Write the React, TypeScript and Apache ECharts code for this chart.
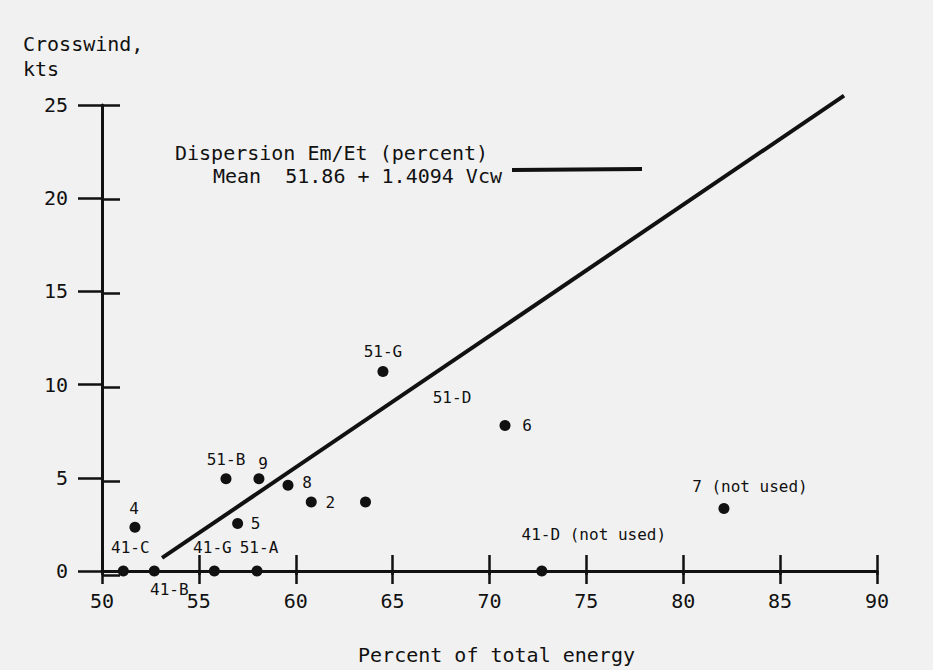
import React, { useEffect, useRef } from "react";
import * as echarts from "echarts";

// ---------- data ----------
const X_TICKS = [50, 55, 60, 65, 70, 75, 80, 85, 90];
const Y_TICKS = [0, 5, 10, 15, 20, 25];

const POINT_NAMES = [
  "41-C", "41-B", "41-G", "51-A", "4", "5", "51-B", "9", "8", "2", "",
  "51-G", "6", "7 (not used)", "41-D (not used)",
];
const POINT_X = [51.1, 52.7, 55.8, 58.0, 51.7, 57.0, 56.4, 58.1, 59.6, 60.8, 63.6, 64.5, 70.8, 82.1, 72.7];
const POINT_Y = [0, 0, 0, 0, 2.35, 2.55, 4.95, 4.95, 4.6, 3.7, 3.7, 10.7, 7.8, 3.35, 0];

// second label attached to point "6"
const EXTRA_LABEL_NAME = "51-D";
const EXTRA_LABEL_POINT = "6";

// mean regression line (drawn endpoints)
const FIT_X = [53.1, 88.3];
const FIT_Y = [0.7, 25.5];

const TITLE_LINE1 = "Dispersion Em/Et (percent)";
const TITLE_LINE2 = "Mean  51.86 + 1.4094 Vcw";
const X_NAME = "Percent of total energy";
const Y_NAME = "Crosswind,\nkts";

// ---------- styles ----------
const FONT = "'DejaVu Sans Mono', 'Liberation Mono', monospace";
const INK = "#111111";
const BG = "#f1f1f1";

const LABEL_OFFSET: Record<string, [number, number]> = {
  "41-C": [7, -24],
  "41-B": [15, 18],
  "41-G": [-2, -24],
  "51-A": [2, -24],
  "4": [-1, -19],
  "5": [18, 0],
  "51-B": [0, -19],
  "9": [4, -15],
  "8": [19, -3],
  "2": [19, 0],
  "": [0, 0],
  "51-G": [0, -20],
  "6": [22, 0],
  "7 (not used)": [26, -22],
  "41-D (not used)": [52, -37],
  "51-D": [-53, -28],
};

export default function App() {
  const ref = useRef<HTMLDivElement>(null);
  useEffect(() => {
    if (!ref.current) return;
    const chart = echarts.init(ref.current, undefined, { renderer: "svg" });
    const gridRect = { left: 102, right: 56, top: 105, bottom: 95 };
    const extraIdx = POINT_NAMES.indexOf(EXTRA_LABEL_POINT);

    const labelStyle = {
      show: true,
      position: "inside" as const,
      formatter: "{b}",
      fontFamily: FONT,
      fontSize: 16,
      color: INK,
      opacity: 1,
    };

    chart.setOption({
      animation: false,
      backgroundColor: BG,
      grid: [{ ...gridRect }, { ...gridRect }],
      xAxis: [
        {
          gridIndex: 0,
          type: "value",
          min: X_TICKS[0],
          max: X_TICKS[X_TICKS.length - 1],
          interval: 5,
          axisLine: { lineStyle: { color: INK, width: 3 } },
          axisTick: { length: 13, lineStyle: { color: INK, width: 2.5 } },
          axisLabel: { margin: 20, fontSize: 20, fontFamily: FONT, color: INK },
          splitLine: { show: false },
          name: X_NAME,
          nameLocation: "middle",
          nameGap: 74,
          nameTextStyle: { fontSize: 20, fontFamily: FONT, color: INK, padding: [0, 0, 0, 14] },
        },
        {
          gridIndex: 1,
          type: "value",
          min: X_TICKS[0],
          max: X_TICKS[X_TICKS.length - 1],
          interval: 5,
          axisLine: { show: false },
          axisTick: { inside: true, length: 20, lineStyle: { color: INK, width: 2.5 } },
          axisLabel: { show: false },
          splitLine: { show: false },
        },
      ],
      yAxis: [
        {
          gridIndex: 0,
          type: "value",
          min: Y_TICKS[0],
          max: Y_TICKS[Y_TICKS.length - 1],
          interval: 5,
          axisLine: { show: true, lineStyle: { color: INK, width: 3 } },
          axisTick: { show: true, length: 24, lineStyle: { color: INK, width: 2.5 } },
          axisLabel: { margin: 34, fontSize: 20, fontFamily: FONT, color: INK },
          splitLine: { show: false },
        },
        {
          gridIndex: 1,
          type: "value",
          min: Y_TICKS[0],
          max: Y_TICKS[Y_TICKS.length - 1],
          interval: 5,
          axisLine: { show: false },
          axisTick: { show: true, inside: true, length: 18, lineStyle: { color: INK, width: 2.5 } },
          axisLabel: { show: false },
          splitLine: { show: false },
        },
      ],
      graphic: [
        {
          type: "text",
          left: 23,
          top: 31,
          style: { text: Y_NAME, fontFamily: FONT, fontSize: 20, lineHeight: 25, fill: INK },
        },
        {
          type: "text",
          x: 175,
          y: 153,
          style: { text: TITLE_LINE1, fontFamily: FONT, fontSize: 20, fill: INK, verticalAlign: "middle" },
        },
        {
          type: "text",
          x: 213,
          y: 176,
          style: { text: TITLE_LINE2, fontFamily: FONT, fontSize: 20, fill: INK, verticalAlign: "middle" },
        },
        {
          type: "line",
          shape: { x1: 512, y1: 170, x2: 642, y2: 169 },
          style: { stroke: INK, lineWidth: 4 },
        },
      ],
      series: [
        {
          type: "line",
          xAxisIndex: 0,
          yAxisIndex: 0,
          data: FIT_X.map((x, i) => [x, FIT_Y[i]]),
          symbol: "none",
          clip: false,
          lineStyle: { color: INK, width: 4 },
          z: 3,
        },
        {
          type: "scatter",
          xAxisIndex: 0,
          yAxisIndex: 0,
          symbol: "circle",
          symbolSize: 11,
          itemStyle: { color: INK, opacity: 1 },
          label: labelStyle,
          data: POINT_NAMES.map((name, i) => ({
            name,
            value: [POINT_X[i], POINT_Y[i]],
            label: { offset: LABEL_OFFSET[name] },
          })),
          z: 4,
        },
        {
          type: "scatter",
          xAxisIndex: 0,
          yAxisIndex: 0,
          symbolSize: 0,
          itemStyle: { color: "transparent" },
          label: labelStyle,
          data: [
            {
              name: EXTRA_LABEL_NAME,
              value: [POINT_X[extraIdx], POINT_Y[extraIdx]],
              label: { offset: LABEL_OFFSET[EXTRA_LABEL_NAME] },
            },
          ],
          z: 4,
        },
      ],
    });
    return () => chart.dispose();
  }, []);

  return (
    <div
      ref={ref}
      style={{ position: "fixed", left: 0, top: 0, width: 933, height: 670 }}
    />
  );
}
